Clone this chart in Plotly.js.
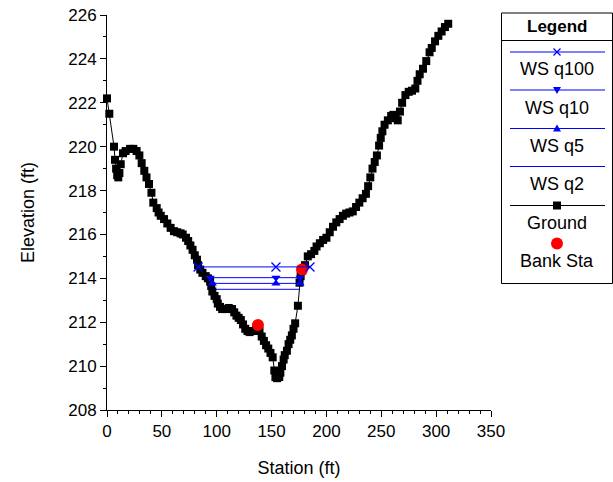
<!DOCTYPE html>
<html>
<head>
<meta charset="utf-8">
<script src="https://cdn.plot.ly/plotly-3.0.1.min.js"></script>
<style>html,body{margin:0;padding:0;background:#fff;}#chart{width:613px;height:482px;}</style>
</head>
<body>
<div id="chart"></div>
<script>
// ---- Data ----
var groundStation = [0,2.1,6.4,7.3,8.3,9.3,10.3,11.3,12.5,14.6,17,21,24,27,29.5,31.6,34,36,38.3,40.5,42.2,45.3,47,49,52,55,58,61,64,67,69,72,74,76,78,80,82,83,85,87,90,92,94,95,96,98,100,101,103,105,108,111,114,116,118,120,122,124,126,128,130,133,136,139,141,143,145,147,149,151,152.5,153.5,155,157,158,159.5,161,162,164,165.5,167,168.5,170,171.5,174,175.5,176.5,178,180.5,183,186,189,191,194,197,200,203,206,209,212,215,218,221,224,227,230,233,236,238,240,242,244,246,248,249.5,251,253,256,259,261,263,265,267,269,272,275,278,281,283,285,288,291,294,296,299,302,305,308,311];
var groundElev = [222.2,221.5,220.0,219.4,219.0,218.7,218.6,218.8,219.2,219.7,219.8,219.9,219.9,219.8,219.6,219.25,218.9,218.6,218.3,217.9,217.45,217.2,217.0,216.85,216.7,216.5,216.3,216.15,216.1,216.05,216.0,215.85,215.7,215.5,215.3,215.05,214.85,214.6,214.4,214.25,214.1,214.0,213.85,213.65,213.4,213.2,213.05,212.85,212.7,212.6,212.6,212.65,212.6,212.45,212.3,212.2,212.1,211.9,211.7,211.6,211.55,211.6,211.75,211.6,211.35,211.15,210.95,210.8,210.6,210.4,209.8,209.5,209.45,209.5,209.7,210.0,210.3,210.5,210.7,211.0,211.2,211.4,211.7,211.95,212.75,213.8,214.1,214.35,214.6,215.0,215.1,215.25,215.45,215.6,215.75,215.85,216.1,216.35,216.55,216.7,216.85,216.95,217.0,217.05,217.25,217.45,217.65,217.85,218.2,218.6,219.0,219.3,219.6,220.05,220.4,220.7,221.0,221.2,221.4,221.45,221.3,221.2,221.6,222.0,222.35,222.5,222.55,222.65,223.0,223.3,223.55,223.9,224.3,224.5,224.8,225.05,225.25,225.45,225.6];

var wsQ100Station = [83, 154, 185];
var wsQ100Elev    = [214.52, 214.52, 214.52];
var wsQ10Station  = [94, 154, 176];
var wsQ10Elev     = [214.03, 214.03, 214.03];
var wsQ5Station   = [96, 154, 176];
var wsQ5Elev      = [213.77, 213.77, 213.77];
var wsQ2Station   = [98.5, 176];
var wsQ2Elev      = [213.5, 213.5];

var bankStation = [137.6, 177.7];
var bankElev    = [211.87, 214.4];

var legendLabels = ["WS q100", "WS q10", "WS q5", "WS q2", "Ground", "Bank Sta"];
var xTickVals = [0,50,100,150,200,250,300,350];
var yTickVals = [208,210,212,214,216,218,220,222,224,226];

var BLUE = '#0000ff', RED = '#ff0000', BLACK = '#000000';
var FONT = 'Liberation Sans, Arial, sans-serif';

var traces = [
  {x: groundStation, y: groundElev, mode: 'lines+markers', name: 'Ground',
   line: {color: BLACK, width: 1}, marker: {symbol: 'square', size: 8, color: BLACK}, cliponaxis: false},
  {x: wsQ2Station, y: wsQ2Elev, mode: 'lines', name: 'WS q2', line: {color: BLUE, width: 1}},
  {x: wsQ5Station, y: wsQ5Elev, mode: 'lines+markers', name: 'WS q5', line: {color: BLUE, width: 1},
   marker: {symbol: 'triangle-up', size: 8, color: BLUE}},
  {x: wsQ10Station, y: wsQ10Elev, mode: 'lines+markers', name: 'WS q10', line: {color: BLUE, width: 1},
   marker: {symbol: 'triangle-down', size: 8, color: BLUE}},
  {x: bankStation, y: bankElev, mode: 'markers', name: 'Bank Sta',
   marker: {symbol: 'circle', size: 12, color: RED}},
  {x: wsQ100Station, y: wsQ100Elev, mode: 'lines+markers', name: 'WS q100', line: {color: BLUE, width: 1},
   marker: {symbol: 'x-thin', size: 9, color: BLUE, line: {color: BLUE, width: 1.3}}}
];

// ---- Custom legend drawn in paper coordinates (pixel helpers) ----
var L = 107, R = 491, T = 15, B = 410;
function px(x){ return (x - L) / (R - L); }
function py(y){ return (B - y) / (B - T); }
var shapes = [], annotations = [];
shapes.push({type:'rect', xref:'paper', yref:'paper', x0:px(501.5), x1:px(612.5), y0:py(13), y1:py(283.5),
  line:{color:BLACK, width:1}, fillcolor:'rgba(0,0,0,0)'});
shapes.push({type:'line', xref:'paper', yref:'paper', x0:px(501.5), x1:px(612.5), y0:py(40.5), y1:py(40.5),
  line:{color:BLACK, width:1}});
annotations.push({xref:'paper', yref:'paper', x:px(557), y:py(26), text:'<b>Legend</b>', showarrow:false,
  xanchor:'center', yanchor:'middle', font:{family:FONT, size:17, color:BLACK}});
var cx = 557;
var rows = [
  {line:52, text:69, color:BLUE, sym:'x'},
  {line:90, text:107.5, color:BLUE, sym:'tdown'},
  {line:128.5, text:146, color:BLUE, sym:'tup'},
  {line:166.5, text:184, color:BLUE, sym:null},
  {line:205.5, text:222.5, color:BLACK, sym:'sq'},
  {line:null, dot:243.5, text:260.5, color:RED, sym:'circ'}
];
rows.forEach(function(r, i){
  if (r.line !== null) {
    shapes.push({type:'line', xref:'paper', yref:'paper', x0:px(510), x1:px(605), y0:py(r.line), y1:py(r.line),
      line:{color:r.color, width:1}});
    var yy = r.line;
    if (r.sym === 'x') {
      shapes.push({type:'line', xref:'paper', yref:'paper', x0:px(cx-3.5), x1:px(cx+3.5), y0:py(yy-3.5), y1:py(yy+3.5), line:{color:BLUE, width:1.2}});
      shapes.push({type:'line', xref:'paper', yref:'paper', x0:px(cx-3.5), x1:px(cx+3.5), y0:py(yy+3.5), y1:py(yy-3.5), line:{color:BLUE, width:1.2}});
    } else if (r.sym === 'tdown') {
      shapes.push({type:'path', xref:'paper', yref:'paper', path:'M'+px(cx-4)+','+py(yy-3)+' L'+px(cx+4)+','+py(yy-3)+' L'+px(cx)+','+py(yy+4)+' Z', fillcolor:BLUE, line:{color:BLUE, width:0}});
    } else if (r.sym === 'tup') {
      shapes.push({type:'path', xref:'paper', yref:'paper', path:'M'+px(cx-4)+','+py(yy+3)+' L'+px(cx+4)+','+py(yy+3)+' L'+px(cx)+','+py(yy-4)+' Z', fillcolor:BLUE, line:{color:BLUE, width:0}});
    } else if (r.sym === 'sq') {
      shapes.push({type:'rect', xref:'paper', yref:'paper', x0:px(cx-4), x1:px(cx+4), y0:py(yy+4), y1:py(yy-4), fillcolor:BLACK, line:{color:BLACK, width:0}});
    }
  } else {
    shapes.push({type:'circle', xref:'paper', yref:'paper', x0:px(cx-6), x1:px(cx+6), y0:py(r.dot+6), y1:py(r.dot-6), fillcolor:RED, line:{color:RED, width:0}});
  }
  annotations.push({xref:'paper', yref:'paper', x:px(cx), y:py(r.text), text:legendLabels[i], showarrow:false,
    xanchor:'center', yanchor:'middle', font:{family:FONT, size:18, color:BLACK}});
});

var layout = {
  width: 613, height: 482,
  margin: {l: L, r: 613 - R, t: T, b: 482 - B, pad: 0},
  paper_bgcolor: '#ffffff', plot_bgcolor: '#ffffff',
  showlegend: false,
  font: {family: FONT, size: 17, color: BLACK},
  xaxis: {
    range: [0, 350], tickvals: xTickVals, showgrid: false, zeroline: false,
    showline: true, linecolor: BLACK, linewidth: 1,
    ticks: 'outside', ticklen: 6, tickcolor: BLACK, tickwidth: 1,
    minor: {dtick: 10, ticks: 'outside', ticklen: 3, tickcolor: BLACK, tickwidth: 1, showgrid: false},
    tickfont: {family: FONT, size: 17, color: BLACK},
    title: {text: 'Station (ft)', font: {family: FONT, size: 18, color: BLACK}, standoff: 20}
  },
  yaxis: {
    range: [208, 226], tickvals: yTickVals, showgrid: false, zeroline: false,
    showline: true, linecolor: BLACK, linewidth: 1,
    ticks: 'outside', ticklen: 6, tickcolor: BLACK, tickwidth: 1,
    minor: {dtick: 1, ticks: 'outside', ticklen: 3, tickcolor: BLACK, tickwidth: 1, showgrid: false},
    tickfont: {family: FONT, size: 17, color: BLACK},
    title: {text: 'Elevation (ft)', font: {family: FONT, size: 18, color: BLACK}, standoff: 28}
  },
  shapes: shapes,
  annotations: annotations
};

Plotly.newPlot('chart', traces, layout, {staticPlot: true, displayModeBar: false});
</script>
</body>
</html>
